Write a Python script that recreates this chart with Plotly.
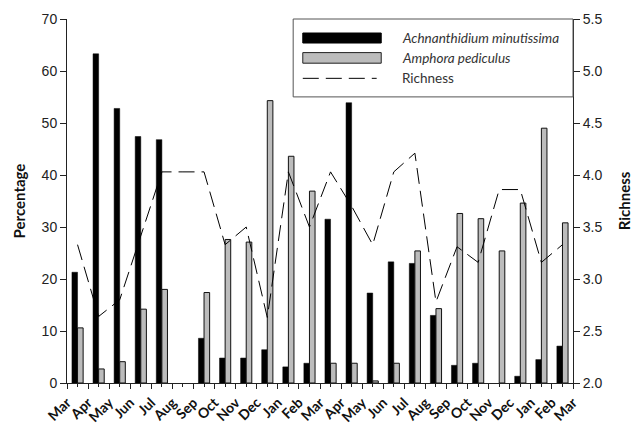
import numpy as np
import plotly.graph_objects as go

# ---- data ----
month_labels = ["Mar", "Apr", "May", "Jun", "Jul", "Aug", "Sep", "Oct", "Nov", "Dec", "Jan", "Feb",
                "Mar", "Apr", "May", "Jun", "Jul", "Aug", "Sep", "Oct", "Nov", "Dec", "Jan", "Feb", "Mar"]
achnanthidium = [21.3, 63.3, 52.8, 47.4, 46.8, None, 8.6, 4.8, 4.8, 6.4, 3.1, 3.8,
                 31.5, 53.9, 17.3, 23.3, 23.0, 13.0, 3.4, 3.8, None, 1.3, 4.5, 7.1]
amphora = [10.6, 2.7, 4.1, 14.2, 18.0, None, 17.4, 27.6, 27.1, 54.3, 43.6, 36.9,
           3.8, 3.8, 0.4, 3.8, 25.4, 14.3, 32.6, 31.6, 25.4, 34.6, 49.0, 30.8]
richness = [3.33, 2.64, 2.80, 3.42, 4.03, 4.03, 4.03, 3.33, 3.50, 2.63, 4.03, 3.50,
            4.03, 3.70, 3.33, 4.03, 4.21, 2.78, 3.31, 3.16, 3.86, 3.86, 3.16, 3.33]

n = len(achnanthidium)
centers = np.arange(n) + 0.5
tick_pos = np.arange(len(month_labels))

fig = go.Figure()
fig.add_trace(go.Bar(x=centers, y=achnanthidium, name="Achnanthidium minutissima",
                     marker=dict(color="#000000", line=dict(color="#000000", width=0.5))))
fig.add_trace(go.Bar(x=centers, y=amphora, name="Amphora pediculus",
                     marker=dict(color="#bcbcbc", line=dict(color="#111111", width=1))))
fig.add_trace(go.Scatter(x=centers, y=richness, name="Richness", yaxis="y2", mode="lines",
                         line=dict(color="#000000", width=1, dash="16px,7px")))

axis_col = "#222222"
fig.update_layout(
    width=638, height=430,
    margin=dict(l=67, r=65, t=19, b=47),
    paper_bgcolor="white", plot_bgcolor="white",
    barmode="group", bargap=0.47, bargroupgap=0,
    showlegend=False,
    xaxis=dict(range=[0, n], tickmode="array", tickvals=tick_pos, ticktext=month_labels,
               tickangle=-45, ticks="outside", ticklen=5, tickcolor=axis_col, automargin=False,
               showline=True, linecolor=axis_col, linewidth=1, showgrid=False, zeroline=False,
               tickfont=dict(family="Lato", size=14, color="#111111", weight="bold"),
               minor=dict(tickmode="linear", tick0=0.5, dtick=1, ticks="outside", ticklen=3,
                          tickcolor=axis_col, showgrid=False)),
    yaxis=dict(range=[0, 70], dtick=10, ticks="outside", ticklen=6, tickcolor=axis_col,
               automargin=False,
               showline=True, linecolor=axis_col, linewidth=1, showgrid=False, zeroline=False,
               tickfont=dict(family="Liberation Sans", size=14, color="#222222"),
               title=dict(text="Percentage", standoff=12,
                          font=dict(family="Lato", size=15, color="#111111", weight="bold"))),
    yaxis2=dict(range=[2.0, 5.5], dtick=0.5, tickformat=".1f", overlaying="y", side="right",
                ticks="outside", ticklen=6, tickcolor=axis_col, automargin=False,
                showline=True, linecolor=axis_col, linewidth=1, showgrid=False, zeroline=False,
                tickfont=dict(family="Liberation Sans", size=14, color="#222222"),
                title=dict(text="Richness", standoff=18,
                           font=dict(family="Lato", size=15, color="#111111", weight="bold"))),
)

# ---- manual legend (box, swatches, labels) ----
fig.add_shape(type="rect", xref="paper", yref="paper", x0=0.447, x1=1.0, y0=0.786, y1=1.0,
              line=dict(color="#555555", width=1), fillcolor="white", layer="above")
fig.add_shape(type="rect", xref="paper", yref="paper", x0=0.466, x1=0.621, y0=0.934, y1=0.9615,
              line=dict(color="#000000", width=1), fillcolor="#000000", layer="above")
fig.add_shape(type="rect", xref="paper", yref="paper", x0=0.466, x1=0.621, y0=0.8786, y1=0.9077,
              line=dict(color="#222222", width=1), fillcolor="#bcbcbc", layer="above")
fig.add_shape(type="line", xref="paper", yref="paper", x0=0.466, x1=0.612, y0=0.837, y1=0.837,
              line=dict(color="#000000", width=1, dash="16px,7px"), layer="above")
legend_texts = [("<i>Achnanthidium minutissima</i>", 0.948),
                ("<i>Amphora pediculus</i>", 0.893),
                ("Richness", 0.837)]
for txt, yy in legend_texts:
    fig.add_annotation(text=txt, xref="paper", yref="paper", x=0.658, y=yy, xanchor="left",
                       yanchor="middle", showarrow=False,
                       font=dict(family="Lato", size=13.5, color="#333333"))

fig.write_html("out.html")
